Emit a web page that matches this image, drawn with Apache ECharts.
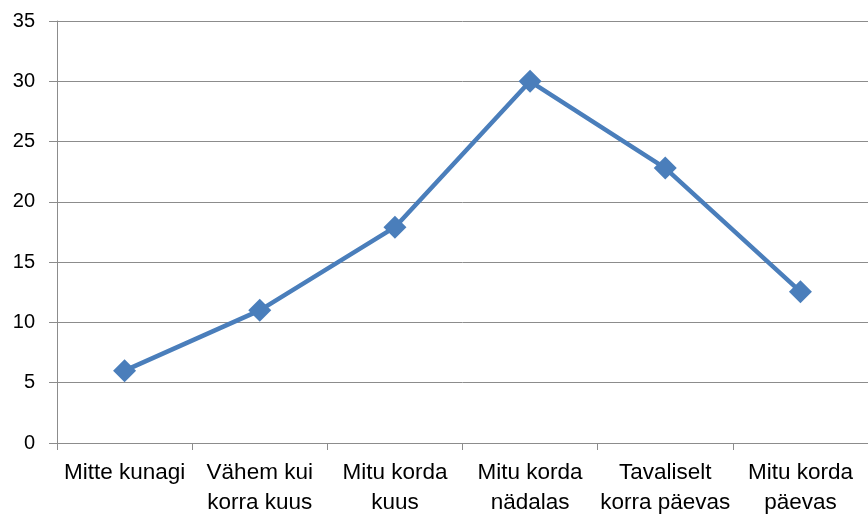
<!DOCTYPE html>
<html>
<head>
<meta charset="utf-8">
<script src="https://cdn.jsdelivr.net/npm/echarts@6/dist/echarts.min.js"></script>
<style>
  html, body { margin: 0; padding: 0; background: #fff; }
  #main { width: 868px; height: 519px; }
</style>
</head>
<body>
<div id="main"></div>
<script>
// categories (line breaks as in the picture)
var categories = [
  "Mitte kunagi",
  "Vähem kui\nkorra kuus",
  "Mitu korda\nkuus",
  "Mitu korda\nnädalas",
  "Tavaliselt\nkorra päevas",
  "Mitu korda\npäevas"
];
var values = [6, 11, 17.9, 30, 22.8, 12.55];

var yMin = 0;
var yMax = 35;
var yStep = 5;

var gridGray = "#8c8c8c";
var lineBlue = "#4a7ebb";

var myChart = echarts.init(document.getElementById("main"));
myChart.setOption({
  animation: false,
  grid: { left: 57, right: 0, top: 21, bottom: 76, containLabel: false },
  xAxis: {
    type: "category",
    data: categories,
    boundaryGap: true,
    axisLine: { lineStyle: { color: gridGray, width: 1 } },
    axisTick: { show: true, length: 7, interval: 0, lineStyle: { color: gridGray } },
    axisLabel: {
      interval: 0,
      margin: 15,
      color: "#000",
      fontFamily: "Liberation Sans",
      fontSize: 22.5,
      lineHeight: 30
    }
  },
  yAxis: {
    type: "value",
    min: yMin,
    max: yMax,
    interval: yStep,
    axisLine: { show: true, lineStyle: { color: gridGray, width: 1 } },
    axisTick: { show: true, length: 8, lineStyle: { color: gridGray } },
    splitLine: { show: true, lineStyle: { color: gridGray, width: 1 } },
    axisLabel: {
      margin: 22,
      color: "#000",
      fontFamily: "Liberation Sans",
      fontSize: 20
    }
  },
  series: [
    {
      type: "line",
      data: values,
      symbol: "diamond",
      symbolSize: 23,
      showAllSymbol: true,
      lineStyle: { color: lineBlue, width: 4.5 },
      itemStyle: { color: lineBlue }
    }
  ]
});
</script>
</body>
</html>
